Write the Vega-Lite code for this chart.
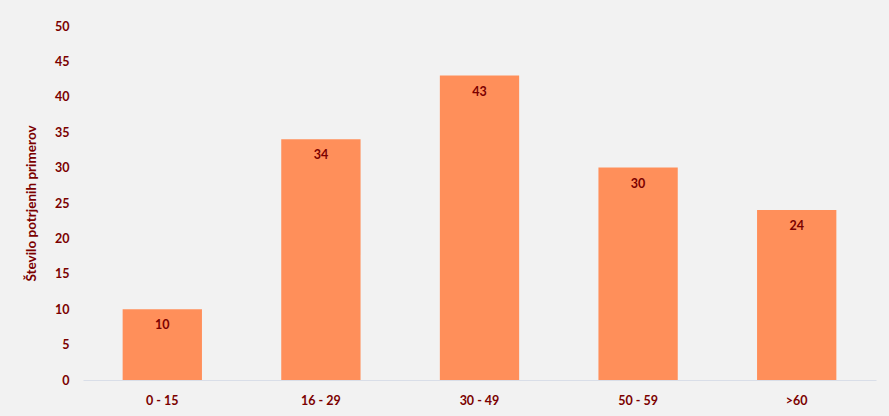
{
  "$schema": "https://vega.github.io/schema/vega-lite/v6.json",
  "autosize": "none",
  "width": 793,
  "height": 354,
  "padding": {"left": 83, "top": 26, "right": 13, "bottom": 36},
  "background": "#F2F2F2",
  "config": {"view": {"stroke": null}, "font": "Lato"},
  "data": {"values": [
    {"age": "0 - 15", "n": 10},
    {"age": "16 - 29", "n": 34},
    {"age": "30 - 49", "n": 43},
    {"age": "50 - 59", "n": 30},
    {"age": ">60", "n": 24}
  ]},
  "encoding": {
    "x": {"field": "age", "type": "nominal", "sort": null, "title": null,
      "scale": {"paddingInner": 0.5, "paddingOuter": 0.25},
      "axis": {"labelAngle": 0, "ticks": false, "domainColor": "#D9DEE8", "labelColor": "#7B0000", "labelFontWeight": "bold", "labelFontSize": 12.5, "labelPadding": 14, "labelFont": "Lato"}},
    "y": {"field": "n", "type": "quantitative", "title": "Število potrjenih primerov",
      "scale": {"domain": [0, 50]},
      "axis": {"values": [0,5,10,15,20,25,30,35,40,45,50], "grid": false, "domain": false, "ticks": false, "labelColor": "#7B0000", "labelFontWeight": "bold", "labelFontSize": 12.5, "labelPadding": 14, "titleColor": "#7B0000", "titleFontSize": 13.5, "titleFontWeight": "bold", "titlePadding": 16, "titleFont": "Lato", "labelFont": "Lato"}}
  },
  "layer": [
    {"mark": {"type": "bar", "color": "#FF8F5A"}},
    {"mark": {"type": "text", "baseline": "top", "dy": 10, "color": "#7B0000", "fontWeight": "bold", "fontSize": 12.5, "font": "Lato"},
      "encoding": {"text": {"field": "n", "type": "quantitative"}}}
  ]
}
